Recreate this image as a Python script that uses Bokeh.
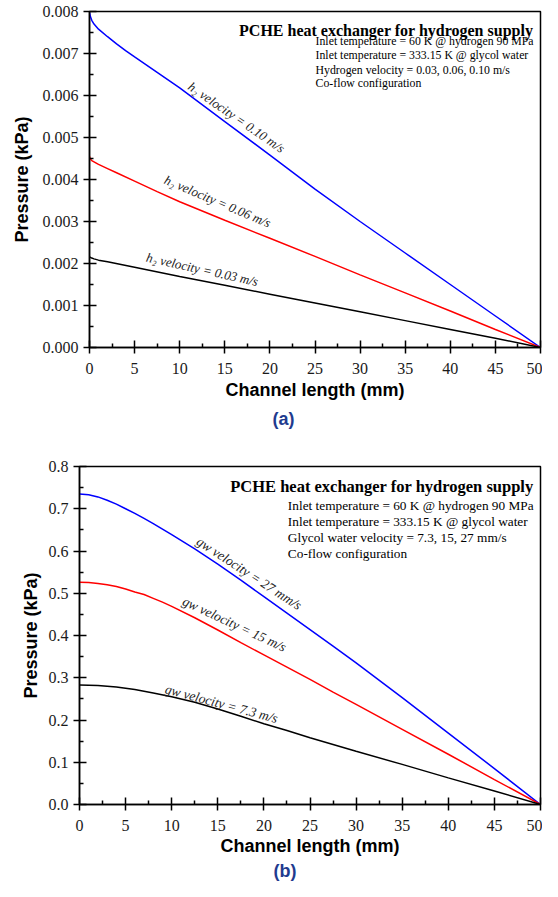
from bokeh.plotting import figure
from bokeh.models import FixedTicker, NumeralTickFormatter, Label, Range1d, Title
from bokeh.embed import file_html
from bokeh.resources import INLINE

# ---------------- Panel (a): hydrogen velocity ----------------
x_a_010 = [0, 0.1, 0.25, 0.5, 1, 2, 3, 4, 5, 7.5, 10, 15, 20, 25, 30, 35, 40, 45, 50]
p_a_010 = [7.98, 7.88, 7.79, 7.70, 7.58, 7.40, 7.23, 7.07, 6.92, 6.55, 6.18, 5.38, 4.58, 3.77, 3.00, 2.25, 1.50, 0.75, 0.0]
x_a_006 = [0, 0.1, 0.25, 0.5, 1, 2, 3, 5, 7.5, 10, 15, 20, 25, 30, 35, 40, 45, 50]
p_a_006 = [4.55, 4.49, 4.45, 4.42, 4.36, 4.26, 4.16, 3.96, 3.71, 3.47, 3.03, 2.60, 2.17, 1.73, 1.30, 0.87, 0.43, 0.0]
x_a_003 = [0, 0.25, 0.5, 1, 2, 5, 10, 15, 20, 25, 30, 35, 40, 45, 50]
p_a_003 = [2.16, 2.13, 2.11, 2.08, 2.04, 1.91, 1.69, 1.48, 1.27, 1.06, 0.85, 0.64, 0.43, 0.22, 0.0]
# values above are in 1e-3 kPa
p_a_010 = [v * 1e-3 for v in p_a_010]
p_a_006 = [v * 1e-3 for v in p_a_006]
p_a_003 = [v * 1e-3 for v in p_a_003]
labels_a = ["h\u2082 velocity = 0.10 m/s", "h\u2082 velocity = 0.06 m/s", "h\u2082 velocity = 0.03 m/s"]
label_a_x = [16.3, 14.2, 12.5]
label_a_y = [0.00548, 0.00348, 0.00186]
label_a_angle = [-34.5, -23.0, -12.5]
info_a = ["Inlet temperature = 60 K @ hydrogen 90 MPa",
          "Inlet temperature = 333.15 K @ glycol water",
          "Hydrogen velocity = 0.03, 0.06, 0.10 m/s",
          "Co-flow configuration"]
yticks_a = [0.000, 0.001, 0.002, 0.003, 0.004, 0.005, 0.006, 0.007, 0.008]

# ---------------- Panel (b): glycol water velocity ----------------
x_b_27 = [0, 1, 2, 3, 4, 5, 6, 7, 8, 9, 10, 12.5, 15, 17.5, 20, 22.5, 25, 27.5, 30, 35, 40, 45, 50]
p_b_27 = [0.735, 0.733, 0.728, 0.720, 0.711, 0.700, 0.689, 0.677, 0.665, 0.652, 0.639, 0.605, 0.569,
          0.531, 0.492, 0.453, 0.414, 0.375, 0.335, 0.253, 0.169, 0.085, 0.0]
x_b_15 = [0, 1, 2, 3, 4, 5, 6, 7, 8, 9, 10, 12.5, 15, 17.5, 20, 22.5, 25, 27.5, 30, 35, 40, 45, 50]
p_b_15 = [0.526, 0.5255, 0.523, 0.520, 0.516, 0.510, 0.503, 0.497, 0.488, 0.479, 0.469, 0.442, 0.413,
          0.383, 0.354, 0.325, 0.296, 0.266, 0.237, 0.178, 0.119, 0.059, 0.0]
x_b_73 = [0, 2, 4, 6, 8, 10, 12.5, 15, 17.5, 20, 22.5, 25, 30, 35, 40, 45, 50]
p_b_73 = [0.283, 0.2815, 0.278, 0.272, 0.264, 0.255, 0.242, 0.226, 0.209, 0.191, 0.175, 0.158,
          0.126, 0.095, 0.063, 0.032, 0.0]
labels_b = ["gw velocity = 27 mm/s", "gw velocity = 15 m/s", "gw velocity = 7.3 m/s"]
label_b_x = [18.4, 16.8, 15.4]
label_b_y = [0.547, 0.427, 0.2386]
label_b_angle = [-33.0, -25.0, -15.0]
info_b = ["Inlet temperature = 60 K @ hydrogen 90 MPa",
          "Inlet temperature = 333.15 K @ glycol water",
          "Glycol water velocity = 7.3, 15, 27 mm/s",
          "Co-flow configuration"]
yticks_b = [0.0, 0.1, 0.2, 0.3, 0.4, 0.5, 0.6, 0.7, 0.8]

xticks = [0, 5, 10, 15, 20, 25, 30, 35, 40, 45, 50]
title_text = "PCHE heat exchanger for hydrogen supply"
colors = ["#0000ff", "#ff0000", "#000000"]

SERIF = "Liberation Serif"
SANS = "Liberation Sans"


def make_panel(width, height, mb, ymax, yticks, yfmt, series, labels, lab_x, lab_y, lab_ang,
               lab_size, title_pos, title_size, info, info_x, info_y, info_size, tag, tag_offset,
               tag_standoff, ylab_standoff, xlab_standoff):
    p = figure(width=width, height=height, x_range=Range1d(0, 50), y_range=Range1d(0, ymax),
               output_backend="svg", toolbar_location=None,
               min_border_left=mb[0], min_border_right=mb[1], min_border_top=mb[2], min_border_bottom=mb[3])
    p.background_fill_color = "white"
    p.border_fill_color = "white"
    p.grid.visible = False
    p.outline_line_color = "black"
    p.outline_line_width = 1.5
    p.outline_line_alpha = 1.0

    minor_x = [2.5 + 5 * i for i in range(10)]
    step = yticks[1] - yticks[0]
    minor_y = [t + step / 2 for t in yticks[:-1]]
    p.xaxis.ticker = FixedTicker(ticks=xticks, minor_ticks=minor_x)
    p.yaxis.ticker = FixedTicker(ticks=yticks, minor_ticks=minor_y)
    p.yaxis.formatter = NumeralTickFormatter(format=yfmt)

    for ax in (p.xaxis, p.yaxis):
        ax.axis_line_width = 1.5
        ax.axis_line_color = "black"
        ax.major_tick_line_width = 1.5
        ax.minor_tick_line_width = 1.5
        ax.major_tick_in = 7
        ax.major_tick_out = 6
        ax.minor_tick_in = 4
        ax.minor_tick_out = 0
        ax.major_label_text_font = SERIF
        ax.major_label_text_font_size = "16px"
        ax.major_label_text_color = "#1a1a1a"
        ax.axis_label_text_font = SANS
        ax.axis_label_text_font_style = "bold"
        ax.axis_label_text_font_size = "18px"
        ax.axis_label_text_color = "black"
    p.xaxis.major_label_standoff = 9
    p.yaxis.major_label_standoff = 5
    p.xaxis.axis_label = "Channel length (mm)"
    p.yaxis.axis_label = "Pressure (kPa)"
    p.xaxis.axis_label_standoff = xlab_standoff
    p.yaxis.axis_label_standoff = ylab_standoff

    for (xs, ys), c in zip(series, colors):
        p.line(xs, ys, line_color=c, line_width=1.5)

    for t, lx, ly, la in zip(labels, lab_x, lab_y, lab_ang):
        p.add_layout(Label(x=lx, y=ly, text=t, angle=la, angle_units="deg",
                           text_align="center", text_baseline="middle",
                           text_font=SERIF, text_font_style="italic",
                           text_font_size=lab_size, text_color="#222222"))

    p.add_layout(Label(x=title_pos[0], y=title_pos[1], text=title_text, text_align="right",
                       text_baseline="alphabetic", text_font=SERIF, text_font_style="bold",
                       text_font_size=title_size, text_color="black"))
    for t, iy in zip(info, info_y):
        p.add_layout(Label(x=info_x, y=iy, text=t, text_align="left", text_baseline="alphabetic",
                           text_font=SERIF, text_font_size=info_size, text_color="black"))

    p.add_layout(Title(text=tag, align="left", offset=tag_offset, standoff=tag_standoff,
                       text_font=SANS, text_font_style="bold", text_font_size="18px",
                       text_color="#1f3b8f"), "below")
    return p


p1 = make_panel(542, 432, (89, 2, 11, 85), 0.008, yticks_a, "0.000",
                [(x_a_010, p_a_010), (x_a_006, p_a_006), (x_a_003, p_a_003)],
                labels_a, label_a_x, label_a_y, label_a_angle, "13px",
                (49.22, 0.007555), "16px", info_a, 25.06,
                [0.007290, 0.006957, 0.006614, 0.006298], "11.8px",
                "(a)", 183, 8, 8, 3)

p2 = make_panel(542, 449, (79, 2, 34, 77), 0.8, yticks_b, "0.0",
                [(x_b_27, p_b_27), (x_b_15, p_b_15), (x_b_73, p_b_73)],
                labels_b, label_b_x, label_b_y, label_b_angle, "13.5px",
                (49.27, 0.7535), "16.5px", info_b, 22.6,
                [0.7071, 0.6699, 0.6327, 0.5934], "13.3px",
                "(b)", 194, 0, 5, 2)

open("out.html", "w").write(file_html([p1, p2], INLINE))
